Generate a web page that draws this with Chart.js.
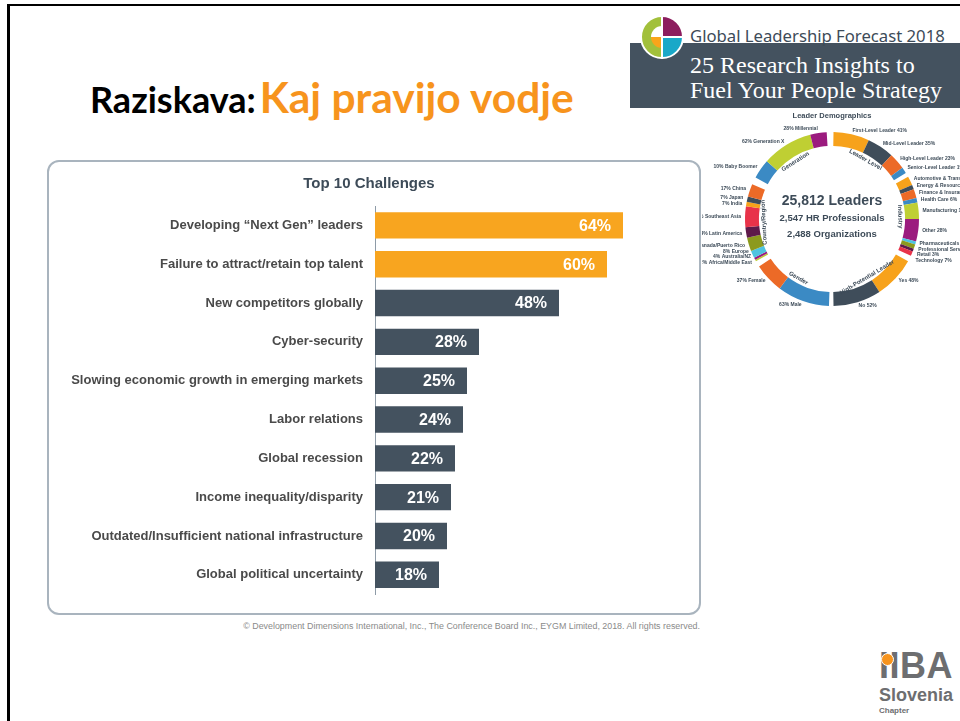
<!DOCTYPE html>
<html>
<head>
<meta charset="utf-8">
<title>Raziskava: Kaj pravijo vodje</title>
<script src="https://cdn.jsdelivr.net/npm/chart.js@4.4.1/dist/chart.umd.min.js"></script>
<style>
  body { margin: 0; background: #fff; }
  #slide { position: relative; width: 960px; height: 721px; overflow: hidden; background: #fff; font-family: "Liberation Sans", Arial, sans-serif; }
  #frame { position: absolute; left: 7px; top: 4px; width: 1000px; height: 800px; border-left: 3px solid #000; border-top: 2px solid #000; }
  #heading { position: absolute; left: 90px; top: 71px; font-family: Lato, "Open Sans", sans-serif; font-weight: bold; white-space: nowrap; }
  #heading .a { font-size: 36px; color: #000; }
  #heading .b { font-size: 42.5px; color: #f7941d; }
  #glf { position: absolute; left: 690px; top: 24px; font-family: "Noto Sans", sans-serif; font-size: 16.7px; color: #3d4b58; white-space: nowrap; }
  #band { position: absolute; left: 630px; top: 43px; width: 330px; height: 65px; background: #44525f; }
  #band div { position: absolute; left: 60px; font-family: "Liberation Serif", serif; color: #fff; font-size: 24px; line-height: 25px; white-space: nowrap; }
  #logo { position: absolute; left: 640px; top: 15px; width: 44px; height: 44px; box-sizing: border-box; border-radius: 50%; border: 2px solid #fff;
          background: conic-gradient(#8c1d5e 0 90deg, #19a8c8 90deg 180deg, #a2c03b 180deg 360deg); }
  #logo .inner { position: absolute; left: 9px; top: 9px; width: 22px; height: 22px; border-radius: 50%;
          background: conic-gradient(rgba(0,0,0,0) 0 180deg, #f9a51a 180deg 270deg, #fff 270deg 360deg); }
  #logo .v { position: absolute; left: 19px; top: -2px; width: 2px; height: 44px; background: #fff; }
  #logo .h { position: absolute; left: 20px; top: 19px; width: 22px; height: 2px; background: #fff; }
  #box { position: absolute; left: 47px; top: 160px; width: 654px; height: 455px; box-sizing: border-box; border: 2px solid #a9b4be; border-radius: 12px; }
  #bars { position: absolute; left: 48px; top: 161px; }
  #demo { position: absolute; left: 702px; top: 104px; }
  #footer { position: absolute; left: 150px; width: 550px; top: 621px; text-align: right; font-size: 8.9px; color: #8a8a8a; white-space: nowrap; }
  #iiba { position: absolute; left: 879px; top: 647px; color: #6d6e70; }
  #iiba .mark { font-size: 36px; font-weight: bold; line-height: 38px; letter-spacing: 0.5px; }
  #iiba .dot { position: absolute; left: 2px; top: 6px; width: 11px; height: 11px; border-radius: 50%; background: #f7941d; border: 1px solid #fff; }
  #iiba .sl { font-size: 18px; font-weight: bold; line-height: 20px; }
  #iiba .ch { font-size: 8px; font-weight: bold; line-height: 12px; }
</style>
</head>
<body>
<div id="slide">
  <div id="frame"></div>
  <div id="heading"><span class="a">Raziskava:</span> <span class="b">Kaj pravijo vodje</span></div>
  <div id="band">
    <div style="top: 10px;">25 Research Insights to</div>
    <div style="top: 35px;">Fuel Your People Strategy</div>
  </div>
  <div id="glf">Global Leadership Forecast 2018</div>
  <div id="logo"><div class="inner"></div><div class="v"></div><div class="h"></div></div>
  <div id="box"></div>
  <canvas id="bars" width="652" height="453"></canvas>
  <canvas id="demo" width="258" height="230"></canvas>
  <div id="footer">&copy; Development Dimensions International, Inc., The Conference Board Inc., EYGM Limited, 2018. All rights reserved.</div>
  <div id="iiba">
    <div class="mark">IIBA</div>
    <div class="dot"></div>
    <div class="sl">Slovenia</div>
    <div class="ch">Chapter</div>
  </div>
</div>

<script>
// Top 10 Challenges
const categories = [
  "Developing \u201cNext Gen\u201d leaders",
  "Failure to attract/retain top talent",
  "New competitors globally",
  "Cyber-security",
  "Slowing economic growth in emerging markets",
  "Labor relations",
  "Global recession",
  "Income inequality/disparity",
  "Outdated/Insufficient national infrastructure",
  "Global political uncertainty"
];
const values = [64, 60, 48, 28, 25, 24, 22, 21, 20, 18];
const highlighted = 2; // first two bars are orange

// Leader Demographics ring: arc sizes (degrees), "" = gap
const demoLabels = [
  "First-Level Leader 41%", "Mid-Level Leader 35%", "High-Level Leader 23%", "Senior-Level Leader 1%", "",
  "Automotive & Transport 12%", "Energy & Resources 5%", "Finance & Insurance 10%", "Health Care 6%",
  "Manufacturing 18%", "Other 28%", "Pharmaceuticals 3%", "Professional Services 4%", "Retail 3%", "Technology 7%", "",
  "Yes 48%", "No 52%", "",
  "63% Male", "37% Female", "",
  "2% Africa/Middle East", "4% Australia/NZ", "8% Europe", "Canada/Puerto Rico", "4% Latin America",
  "11% Southeast Asia", "7% India", "7% Japan", "17% China", "",
  "10% Baby Boomer", "62% Generation X", "28% Millennial", ""
];
const demoGroups = [
  "Leader Level", "Leader Level", "Leader Level", "Leader Level", "",
  "Industry", "Industry", "Industry", "Industry", "Industry", "Industry", "Industry", "Industry", "Industry", "Industry", "",
  "High-Potential Leader", "High-Potential Leader", "",
  "Gender", "Gender", "",
  "Country/Region", "Country/Region", "Country/Region", "Country/Region", "Country/Region",
  "Country/Region", "Country/Region", "Country/Region", "Country/Region", "",
  "Generation", "Generation", "Generation", ""
];
const demoValues = [
  24, 18, 11, 4, 3,
  6, 3, 6, 3, 11, 15, 2, 3, 2, 3, 4,
  28, 32, 3,
  35, 20, 4,
  1, 1.5, 5, 9, 7, 14, 3, 3.5, 8.5, 5,
  13, 34, 11, 4.5
];
const demoColors = [
  "#f7a21b", "#3f4d5a", "#ec6a27", "#3b8ac4", "rgba(0,0,0,0)",
  "#f7a21b", "#3f4d5a", "#ec6a27", "#3b8ac4", "#bfcf33", "#9b1b7e", "#4fc3e0", "#8c9a1e", "#5e1a4a", "#e8334a", "rgba(0,0,0,0)",
  "#f7a21b", "#3f4d5a", "rgba(0,0,0,0)",
  "#3b8ac4", "#ec6a27", "rgba(0,0,0,0)",
  "#bfcf33", "#9b1b7e", "#4fc3e0", "#8c9a1e", "#5e1a4a", "#e8334a", "#f7a21b", "#3f4d5a", "#ec6a27", "rgba(0,0,0,0)",
  "#3b8ac4", "#bfcf33", "#9b1b7e", "rgba(0,0,0,0)"
];
const demoCenter = ["25,812 Leaders", "2,547 HR Professionals", "2,488 Organizations"];

const FONT = "'Liberation Sans', Arial, sans-serif";
const SLATE = "#3d4b58";

// white % labels inside the bar ends
const valueLabels = {
  id: "valueLabels",
  afterDatasetsDraw(chart) {
    const ctx = chart.ctx;
    const meta = chart.getDatasetMeta(0);
    ctx.save();
    ctx.font = "bold 16px " + FONT;
    ctx.fillStyle = "#fff";
    ctx.textAlign = "right";
    ctx.textBaseline = "middle";
    meta.data.forEach((bar, i) => {
      ctx.fillText(values[i] + "%", bar.x - 12, bar.y + 1);
    });
    ctx.restore();
  }
};

new Chart(document.getElementById("bars"), {
  type: "bar",
  data: {
    labels: categories,
    datasets: [{
      data: values,
      backgroundColor: values.map((v, i) => i < highlighted ? "#f8a51f" : "#44525f"),
      barPercentage: 0.68,
      categoryPercentage: 1,
      clip: 0
    }]
  },
  options: {
    indexAxis: "y",
    responsive: false,
    animation: false,
    events: [],
    layout: { padding: { left: 0, right: 10, top: 0, bottom: 16 } },
    scales: {
      x: { display: false, min: 2, max: 80.75 },
      y: {
        grid: { display: false, drawTicks: false },
        border: { display: true, color: "#8e9ba7", width: 1 },
        ticks: { color: "#4a4a4a", padding: 12, font: { family: FONT, size: 13, weight: "bold" } },
        afterFit(scale) { scale.width = 327; }
      }
    },
    plugins: {
      legend: { display: false },
      tooltip: { enabled: false },
      title: {
        display: true,
        text: "Top 10 Challenges",
        color: SLATE,
        font: { family: FONT, size: 15, weight: "bold" },
        padding: { top: 14, bottom: 13 }
      }
    }
  },
  plugins: [valueLabels]
});

// labels round the ring, group names inside it, totals in the middle
const demoText = {
  id: "demoText",
  afterDraw(chart) {
    const ctx = chart.ctx;
    const arcs = chart.getDatasetMeta(0).data;
    const cx = arcs[0].x, cy = arcs[0].y;
    const outer = arcs[0].outerRadius, inner = arcs[0].innerRadius;
    ctx.save();
    ctx.fillStyle = SLATE;
    ctx.textBaseline = "middle";

    ctx.font = "bold 7.5px " + FONT;
    ctx.textAlign = "center";
    ctx.fillText("Leader Demographics", cx, 12);

    ctx.font = "bold 5px " + FONT;
    let lastRight = -99, lastLeft = 999;
    arcs.forEach((arc, i) => {
      if (!demoLabels[i]) return;
      const mid = (arc.startAngle + arc.endAngle) / 2;
      const x = cx + Math.cos(mid) * (outer + 4);
      let y = cy + Math.sin(mid) * (outer + 4);
      if (Math.cos(mid) >= 0) {
        y = Math.max(y, lastRight + 5.5);
        lastRight = y;
        ctx.textAlign = "left";
      } else {
        y = Math.min(y, lastLeft - 5.5);
        lastLeft = y;
        ctx.textAlign = "right";
      }
      ctx.fillText(demoLabels[i], x, y);
    });

    // group names along the inner edge
    const spans = {};
    arcs.forEach((arc, i) => {
      const g = demoGroups[i];
      if (!g) return;
      if (!spans[g]) spans[g] = [arc.startAngle, arc.endAngle];
      spans[g][1] = arc.endAngle;
    });
    ctx.font = "bold 6px " + FONT;
    ctx.textAlign = "center";
    Object.keys(spans).forEach(g => {
      const mid = (spans[g][0] + spans[g][1]) / 2;
      const r = inner - 5;
      const fromTop = (mid + Math.PI / 2) * 180 / Math.PI;
      const rot = fromTop > 120 && fromTop < 240 ? mid - Math.PI / 2 : mid + Math.PI / 2;
      ctx.save();
      ctx.translate(cx + Math.cos(mid) * r, cy + Math.sin(mid) * r);
      ctx.rotate(rot);
      ctx.fillText(g, 0, 0);
      ctx.restore();
    });

    ctx.textAlign = "center";
    ctx.font = "bold 14px " + FONT;
    ctx.fillText(demoCenter[0], cx, cy - 18);
    ctx.font = "bold 9.5px " + FONT;
    ctx.fillText(demoCenter[1], cx, cy - 1);
    ctx.fillText(demoCenter[2], cx, cy + 15);
    ctx.restore();
  }
};

new Chart(document.getElementById("demo"), {
  type: "doughnut",
  data: {
    labels: demoLabels,
    datasets: [{
      data: demoValues,
      backgroundColor: demoColors,
      borderWidth: 0
    }]
  },
  options: {
    responsive: false,
    animation: false,
    events: [],
    rotation: 1,
    cutout: "84%",
    layout: { padding: { left: 43, right: 41, top: 28, bottom: 28 } },
    plugins: {
      legend: { display: false },
      tooltip: { enabled: false }
    }
  },
  plugins: [demoText]
});
</script>
</body>
</html>
